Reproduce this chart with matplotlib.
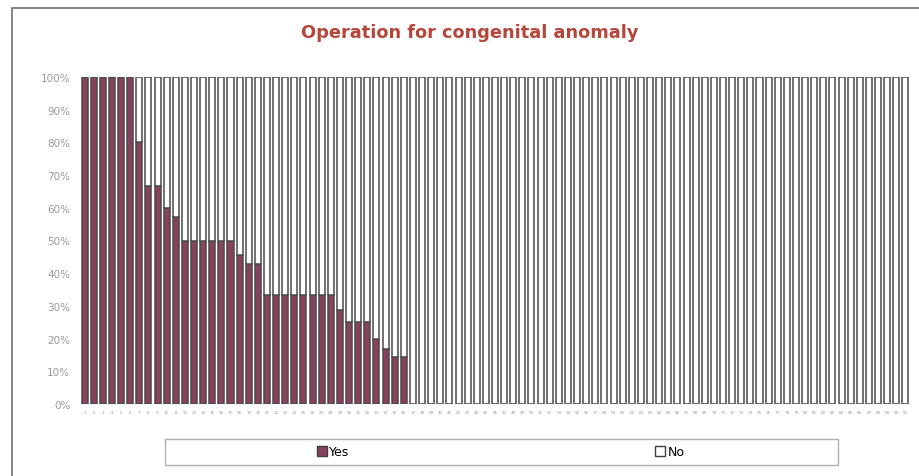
import matplotlib.pyplot as plt
from matplotlib.patches import Rectangle, Patch

# share of "Yes" per case, in percent; the rest is "No"
cases = list(range(1, 92))
yes_pct = ([100] * 6 + [80, 66.7, 66.7, 60, 57.1] + [50] * 6 + [45.5, 42.9, 42.9]
           + [33.3] * 8 + [28.6, 25, 25, 25, 20, 16.7, 14.3, 14.3] + [0] * 55)
no_pct = [100 - v for v in yes_pct]

yes_color = '#8A415E'
edge_color = '#4a4a4a'
text_gray = '#9a9a9a'

fig = plt.figure(figsize=(9.19, 4.77), dpi=100)
W, H = 919, 477
ax = fig.add_axes([80 / W, 1 - 405 / H, 830 / W, 327 / H])

ax.bar(cases, yes_pct, width=0.66, color=yes_color, edgecolor=edge_color, linewidth=1.1)
ax.bar(cases, no_pct, bottom=yes_pct, width=0.66, color='white',
       edgecolor=edge_color, linewidth=1.1)

ax.set_xlim(0.5, 91.5)
ax.set_ylim(0, 100)
ax.set_yticks(range(0, 101, 10))
ax.set_yticklabels([f'{v}%' for v in range(0, 101, 10)], color=text_gray, fontsize=7.5)
ax.set_xticks(cases)
ax.set_xticklabels([str(c) for c in cases], fontsize=3, color=text_gray)
ax.tick_params(length=0, pad=4)
ax.tick_params(axis='y', pad=7)
for s in ax.spines.values():
    s.set_visible(False)

fig.text(470 / W, 1 - 33 / H, 'Operation for congenital anomaly', ha='center', va='center',
         fontsize=12.8, fontweight='bold', color='#B4463A')

# outer frame and legend box
fig.patches.append(Rectangle((12 / W, -0.1), 1.1, 1 - 9 / H + 0.1, transform=fig.transFigure,
                             fill=False, edgecolor='#707070', linewidth=1.2))
fig.patches.append(Rectangle((165 / W, 1 - 466 / H), 673 / W, 26 / H, transform=fig.transFigure,
                             fill=False, edgecolor='#b0b0b0', linewidth=1))

for label, color, xc in [('Yes', yes_color, 333), ('No', 'white', 670)]:
    fig.legend(handles=[Patch(facecolor=color, edgecolor='#404040', label=label)],
               loc='center', bbox_to_anchor=(xc / W, 1 - 453 / H), frameon=False,
               fontsize=9, handlelength=0.8, handleheight=0.8, handletextpad=0.2)

fig.savefig('out.png', dpi=100)
